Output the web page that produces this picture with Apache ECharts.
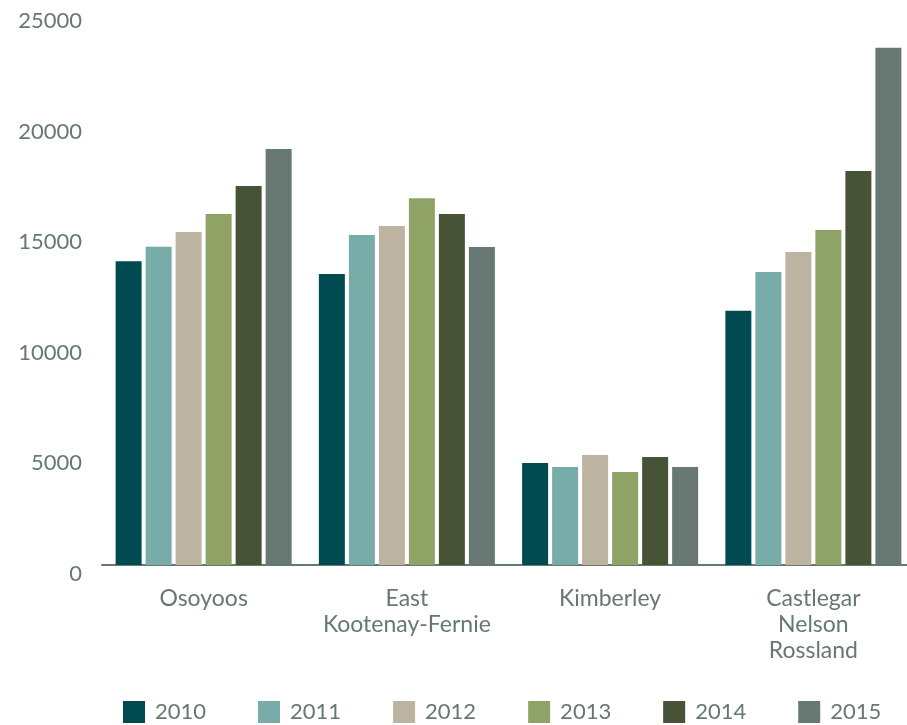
<!DOCTYPE html>
<html><head><meta charset="utf-8">
<script src="https://cdn.jsdelivr.net/npm/echarts@6/dist/echarts.min.js"></script>
<style>html,body{margin:0;padding:0;background:#fff;overflow:hidden;width:907px;height:725px}#c{width:930px;height:725px}</style>
</head><body><div id="c"></div>
<script>
const categories = ['Osoyoos', 'East\nKootenay-Fernie', 'Kimberley', 'Castlegar\nNelson\nRossland'];
const years = ['2010', '2011', '2012', '2013', '2014', '2015'];
const v2010 = [13750, 13170, 4620, 11500];
const v2011 = [14400, 14930, 4430, 13260];
const v2012 = [15070, 15340, 4980, 14160];
const v2013 = [15880, 16600, 4210, 15160];
const v2014 = [17150, 15880, 4890, 17830];
const v2015 = [18820, 14390, 4430, 23400];
const yTicks = [0, 5000, 10000, 15000, 20000, 25000];
const colors = ['#004b51', '#77aca8', '#bcb4a0', '#90a366', '#475336', '#677972'];
const txt = '#66796f';
const font = 'Lato';
const values = [v2010, v2011, v2012, v2013, v2014, v2015];
const chart = echarts.init(document.getElementById('c'));
chart.setOption({
  animation: false,
  color: colors,
  grid: { left: 102, width: 813, top: 12.5, bottom: 160, containLabel: false },
  legend: {
    top: 701, left: 123, padding: 0, itemWidth: 22, itemHeight: 22, itemGap: 52,
    icon: 'rect',
    textStyle: { color: txt, fontSize: 22, fontFamily: font, padding: [3, 0, 0, 5] },
    data: years
  },
  xAxis: {
    type: 'category', data: categories,
    axisLine: { lineStyle: { color: txt, width: 2 } },
    axisTick: { show: false },
    axisLabel: { color: txt, fontSize: 23, fontFamily: font, lineHeight: 26, margin: 21, interval: 0 }
  },
  yAxis: {
    type: 'value', min: 0, max: 25000, interval: 5000,
    splitLine: { show: false },
    axisLine: { show: false }, axisTick: { show: false },
    axisLabel: { color: txt, fontSize: 22, fontFamily: font, margin: 20,
      verticalAlign: 'top', lineHeight: 17,
      formatter: v => String(v) }
  },
  series: years.map((y, i) => ({
    name: y, type: 'bar', data: values[i], barWidth: 26, barGap: '15.4%'
  }))
});
</script></body></html>
